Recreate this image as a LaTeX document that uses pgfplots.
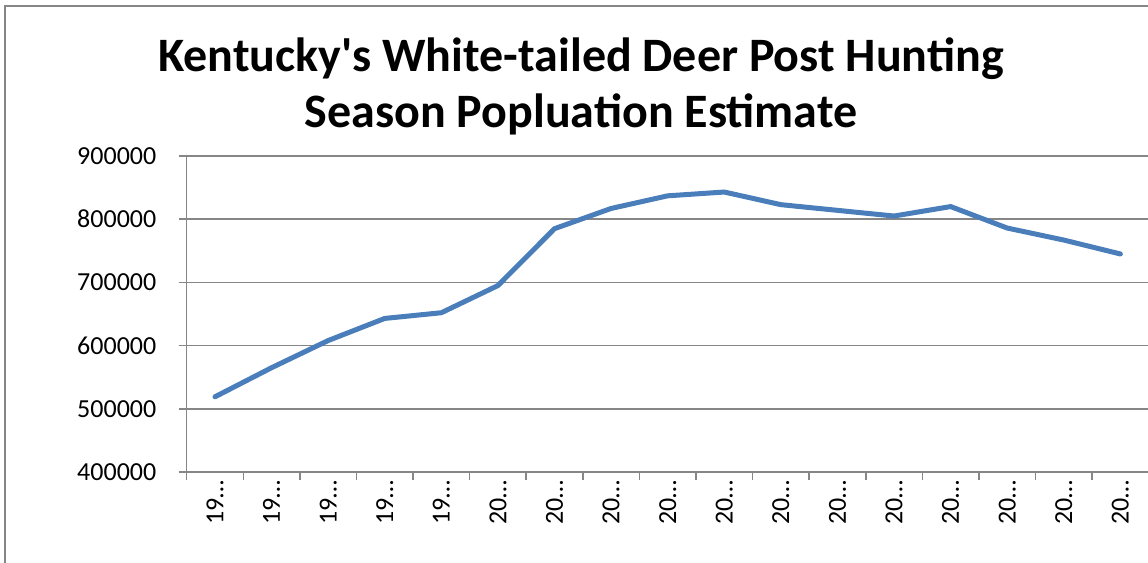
\documentclass[border=0pt]{standalone}
\usepackage{fontspec}
\setmainfont{Carlito}[Ligatures=TeXOff]
\usepackage{pgfplots}
\pgfplotsset{compat=1.18}
\definecolor{linecol}{HTML}{4A7EBB}
\definecolor{gridcol}{HTML}{868686}
\begin{document}
\begin{tikzpicture}
\begin{axis}[
  at={(93.35pt,45.5pt)}, anchor=south west,
  scale only axis, width=481pt, height=158pt,
  xmin=-0.5, xmax=16.5, ymin=400000, ymax=900000,
  ytick={400000,500000,600000,700000,800000,900000},
  yticklabels={400000,500000,600000,700000,800000,900000},
  scaled y ticks=false,
  xtick={0,...,16},
  xticklabels={19…,19…,19…,19…,19…,20…,20…,20…,20…,20…,20…,20…,20…,20…,20…,20…,20…},
  minor xtick={-0.5,0.5,...,16.5},
  major x tick style={draw=none},
  tick align=outside,
  major tick length=4pt, minor tick length=4pt,
  axis x line*=bottom, axis y line*=left,
  axis line style={draw=gridcol, line width=0.75pt, -},
  tick style={draw=gridcol, line width=0.75pt},
  ymajorgrids, grid style={draw=gridcol, line width=0.75pt},
  ticklabel style={font=\fontsize{13}{15}\selectfont, text=black},
  yticklabel style={anchor=east, inner sep=0pt, xshift=-11pt},
  xticklabel style={rotate=90, anchor=east, inner sep=0pt, yshift=0pt, xshift=0pt},
  clip=false,
]
\addplot[linecol, line width=2.5pt, line join=round, line cap=round] coordinates {
 (0,519000) (1,565000) (2,608000) (3,643000) (4,652000) (5,695000)
 (6,785000) (7,817000) (8,837000) (9,843000) (10,823000) (11,814000)
 (12,805000) (13,820000) (14,786000) (15,767000) (16,745000)
};
\end{axis}
\node[anchor=base, align=center, font=\bfseries\fontsize{24}{28}\selectfont] at (290.5pt,217.5pt)
  {Kentucky's White-tailed Deer Post Hunting\\Season Popluation Estimate};
\draw[gridcol, line width=1pt] (2.5pt,-20pt) -- (2.5pt,278.5pt) -- (620pt,278.5pt);
\pgfresetboundingbox
\path[use as bounding box] (0,0) rectangle (574pt,281.5pt);
\end{tikzpicture}
\end{document}
